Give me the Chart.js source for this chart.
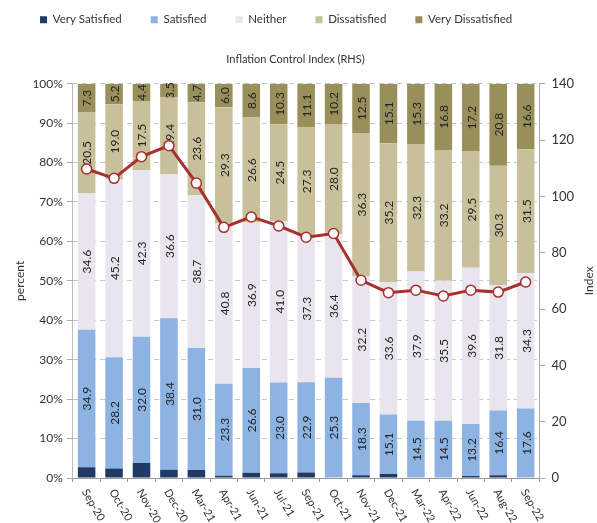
<!DOCTYPE html>
<html>
<head>
<meta charset="utf-8">
<script src="https://cdn.jsdelivr.net/npm/chart.js@4.4.0/dist/chart.umd.min.js"></script>
<style>
    html, body { margin: 0; padding: 0; background: #fff; }
    #wrap { width: 597px; height: 523px; }
</style>
</head>
<body>
<div id="wrap"><canvas id="chart"></canvas></div>
<script>
const labels = ["Sep-20", "Oct-20", "Nov-20", "Dec-20", "Mar-21", "Apr-21", "Jun-21", "Jul-21", "Sep-21",
    "Oct-21", "Nov-21", "Dec-21", "Mar-22", "Apr-22", "Jun-22", "Aug-22", "Sep-22"];
const verySatisfied = [2.7, 2.4, 3.8, 2.1, 2.0, 0.6, 1.3, 1.2, 1.4, 0.1, 0.7, 1.0, 0.0, 0.0, 0.5, 0.7, 0.0];
const satisfied = [34.9, 28.2, 32.0, 38.4, 31.0, 23.3, 26.6, 23.0, 22.9, 25.3, 18.3, 15.1, 14.5, 14.5, 13.2, 16.4, 17.6];
const neither = [34.6, 45.2, 42.3, 36.6, 38.7, 40.8, 36.9, 41.0, 37.3, 36.4, 32.2, 33.6, 37.9, 35.5, 39.6, 31.8, 34.3];
const dissatisfied = [20.5, 19.0, 17.5, 19.4, 23.6, 29.3, 26.6, 24.5, 27.3, 28.0, 36.3, 35.2, 32.3, 33.2, 29.5, 30.3, 31.5];
const veryDissatisfied = [7.3, 5.2, 4.4, 3.5, 4.7, 6.0, 8.6, 10.3, 11.1, 10.2, 12.5, 15.1, 15.3, 16.8, 17.2, 20.8, 16.6];
const inflationIndex = [109.7, 106.4, 114.1, 118.0, 104.7, 89.0, 92.7, 89.5, 85.5, 86.8, 70.2, 65.8, 66.7, 64.6, 66.7, 66.0, 69.6];

const fontFamily = "Lato, 'Liberation Sans', sans-serif";
const textColor = "#333";
const gridColor = "#c6c8d0";

function barSet(label, data, color) {
    return {
        type: "bar",
        label: label,
        data: data,
        backgroundColor: color,
        stack: "s",
        yAxisID: "y",
        categoryPercentage: 1,
        barPercentage: 0.64,
        order: 1,
    };
}

// values written sideways in the middle of each segment
const segmentLabels = {
    id: "segmentLabels",
    afterDatasetDraw(chart, args) {
        const i = args.index;
        if (i < 1 || i > 4) return;
        const ctx = chart.ctx;
        const ds = chart.data.datasets[i];
        ctx.save();
        ctx.font = "12px " + fontFamily;
        ctx.fillStyle = "#222";
        ctx.textAlign = "center";
        ctx.textBaseline = "middle";
        args.meta.data.forEach((bar, j) => {
            const cy = (bar.y + bar.base) / 2;
            ctx.save();
            ctx.translate(bar.x, cy);
            ctx.rotate(-Math.PI / 2);
            ctx.fillText(ds.data[j].toFixed(1), 0, 1);
            ctx.restore();
        });
        ctx.restore();
    },
    afterDraw(chart) {
        const ctx = chart.ctx;
        const xs = chart.scales.x;
        const area = chart.chartArea;
        ctx.save();
        ctx.font = "11px " + fontFamily;
        ctx.fillStyle = textColor;
        ctx.textAlign = "left";
        ctx.textBaseline = "middle";
        labels.forEach((lab, j) => {
            ctx.save();
            ctx.translate(xs.getPixelForValue(j) - 2, area.bottom + 12);
            ctx.rotate(Math.PI / 3);
            ctx.fillText(lab, 0, 0);
            ctx.restore();
        });
        // right axis title, reading bottom to top
        ctx.translate(chart.width - 8, (area.top + area.bottom) / 2);
        ctx.rotate(-Math.PI / 2);
        ctx.font = "12px " + fontFamily;
        ctx.textAlign = "center";
        ctx.fillText("Index", 0, 0);
        ctx.restore();
    }
};

new Chart("chart", {
    data: {
        labels: labels,
        datasets: [
            barSet("Very Satisfied", verySatisfied, "#1f3a66"),
            barSet("Satisfied", satisfied, "#8db3e2"),
            barSet("Neither", neither, "#e9e5ee"),
            barSet("Dissatisfied", dissatisfied, "#c8c09a"),
            barSet("Very Dissatisfied", veryDissatisfied, "#998f5b"),
            {
                type: "line",
                label: "Inflation Control Index (RHS)",
                data: inflationIndex,
                yAxisID: "y1",
                borderColor: "#a8302e",
                borderWidth: 3,
                pointRadius: 5,
                pointBackgroundColor: "#fff",
                pointBorderColor: "#a8302e",
                pointBorderWidth: 1.5,
                tension: 0,
                order: 0,
            },
        ],
    },
    options: {
        responsive: true,
        maintainAspectRatio: false,
        animation: false,
        layout: {
            padding: { top: -15, right: 17, bottom: 41, left: 11 },
        },
        plugins: {
            legend: {
                position: "top",
                align: "start",
                labels: {
                    boxWidth: 7,
                    boxHeight: 7,
                    padding: 29,
                    color: textColor,
                    font: { family: fontFamily, size: 11.5 },
                    filter: (item) => item.datasetIndex !== 5,
                },
            },
            subtitle: {
                display: true,
                text: "Inflation Control Index (RHS)",
                color: textColor,
                font: { family: fontFamily, size: 11 },
                padding: { top: 17, bottom: 18 },
                weight: 500,
            },
            tooltip: { enabled: false },
        },
        scales: {
            x: {
                stacked: true,
                grid: { display: true, drawOnChartArea: false, tickLength: 4, color: "#999" },
                border: { color: "#999" },
                ticks: { display: false },
            },
            y: {
                stacked: true,
                min: 0,
                max: 100,
                position: "left",
                ticks: {
                    stepSize: 10,
                    padding: 4,
                    color: textColor,
                    font: { family: fontFamily, size: 12 },
                    callback: (v) => v + "%",
                },
                grid: { color: gridColor, tickLength: 6, tickColor: "#aaa" },
                border: { color: "#bbb", dash: [5, 4] },
                title: {
                    display: true,
                    text: "percent",
                    color: textColor,
                    font: { family: fontFamily, size: 12 },
                    padding: 1.5,
                },
            },
            y1: {
                min: 0,
                max: 140,
                position: "right",
                ticks: {
                    stepSize: 20,
                    padding: 6,
                    color: textColor,
                    font: { family: fontFamily, size: 13 },
                },
                grid: { drawOnChartArea: false, tickLength: 6, color: "#aaa" },
                border: { color: "#aaa" },
            },
        },
    },
    plugins: [segmentLabels],
});
</script>
</body>
</html>
